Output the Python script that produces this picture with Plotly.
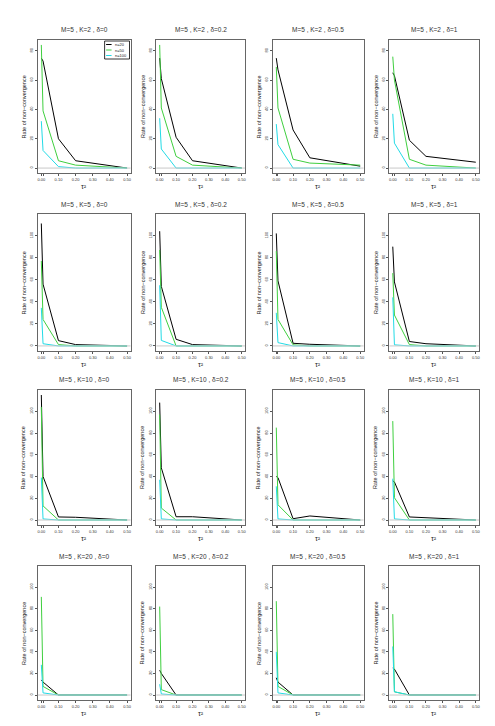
import plotly.graph_objects as go

W, H = 495, 726

# tau^2 grid used in the simulation
TAU2 = [0, 0.01, 0.1, 0.2, 0.5]
K_VALUES = [2, 5, 10, 20]
DELTA_VALUES = ["0", "0.2", "0.5", "1"]
X_TICKS = [0, 0.1, 0.2, 0.3, 0.4, 0.5]
X_TICK_TEXT = ["0.00", "0.10", "0.20", "0.30", "0.40", "0.50"]

# rate of non-convergence, one list per panel (row by row: K, then delta)
RATE_N20 = [
    [75, 73, 20, 5, 0], [75, 61, 21, 5, 0], [75, 67, 26, 7, 1.3], [65, 63, 19, 8, 4],
    [111, 56, 4.8, 1.2, 0], [104, 54, 6, 1.2, 0], [102, 59, 2.4, 1.5, 0], [90, 58, 4, 2, 0],
    [115, 40, 2.8, 2.5, 0], [108, 48, 3, 3, 0], [40, 39, 1.2, 3.7, 0], [36, 35, 2.8, 2, 0],
    [14, 12, 0, 0, 0], [23, 20, 0, 0, 0], [16, 12, 0, 0, 0], [25, 24, 0, 0, 0],
]
RATE_N50 = [
    [84, 39, 5, 2, 0], [84, 41, 8, 2, 0], [69, 41, 6, 3.4, 2], [76, 60, 6, 2, 0],
    [77, 24, 1.2, 0, 0], [87, 35, 0, 0, 0], [86, 24, 1, 0, 0], [66, 28, 1.2, 0, 0],
    [104, 13, 0, 0, 0], [97, 11, 0, 0, 0], [85, 14, 0, 0, 0], [91, 20.5, 0, 0, 0],
    [91, 8, 0, 0, 0], [82, 5, 0, 0, 0], [87, 8, 0, 0, 0], [75, 3, 0, 0, 0],
]
RATE_N100 = [
    [32, 12, 1, 0, 0], [34, 13, 0, 0, 0], [30, 16, 0, 0, 0], [37, 17, 0, 0, 0],
    [34.5, 2, 0, 0, 0], [55, 5, 0, 0, 0], [30, 3, 0, 0, 0], [44, 1, 0, 0, 0],
    [39, 1, 0, 0, 0], [37, 1, 0, 0, 0], [31, 1, 0, 0, 0], [38, 1, 0, 0, 0],
    [28, 2, 0, 0, 0], [10, 1, 0, 0, 0], [40, 2, 0, 0, 0], [45, 3, 0, 0, 0],
]
SERIES = [("n=20", RATE_N20, "black"), ("n=50", RATE_N50, "#3fcf3f"), ("n=100", RATE_N100, "#22dbe6")]
Y_MAX = [84, 115, 115, 115]
Y_TICKS = [[0, 20, 40, 60, 80], [0, 20, 40, 60, 80, 100], [0, 20, 40, 60, 80, 100], [0, 20, 40, 60, 80, 100]]

# panel plot-area positions in pixels
COL_L = [29, 148, 265, 382]
COL_R = [122, 237, 356, 472]
ROW_T = [32, 206, 382, 558]
ROW_B = [165, 343, 517, 692]

FONT = "Liberation Sans, Arial, sans-serif"

fig = go.Figure()
annotations = []
shapes = []

for r in range(4):
    for c in range(4):
        i = r * 4 + c
        n = i + 1
        xa = "x" if n == 1 else f"x{n}"
        ya = "y" if n == 1 else f"y{n}"
        for name, data, color in SERIES:
            fig.add_trace(go.Scatter(
                x=TAU2, y=data[i], mode="lines", name=name,
                line=dict(color=color, width=1), showlegend=False,
                xaxis=xa, yaxis=ya, hoverinfo="skip"))

        ymax = Y_MAX[r]
        pad = 0.04 * ymax
        ax_common = dict(showline=True, mirror=True, linecolor="#666", linewidth=1,
                         ticks="outside", ticklen=2, tickcolor="#555", tickwidth=0.6,
                         showgrid=False, zeroline=False,
                         tickfont=dict(size=4, family=FONT, color="#333"))
        fig.layout[f"xaxis{'' if n == 1 else n}"] = dict(
            domain=[COL_L[c] / W, COL_R[c] / W], anchor=ya,
            range=[-0.02, 0.52], tickvals=X_TICKS, ticktext=X_TICK_TEXT,
            minor=dict(tickmode="array", tickvals=[0.01], ticks="outside", ticklen=2,
                       tickcolor="#555", tickwidth=0.6),
            **ax_common)
        fig.layout[f"yaxis{'' if n == 1 else n}"] = dict(
            domain=[1 - ROW_B[r] / H, 1 - ROW_T[r] / H], anchor=xa,
            range=[-pad, ymax + pad], tickvals=Y_TICKS[r], tickangle=-90, **ax_common)

        # grey reference line at zero
        shapes.append(dict(type="line", xref=f"{xa} domain", yref=ya, x0=0, x1=1, y0=0, y1=0,
                           line=dict(color="#c8c8c8", width=1), layer="above"))

        cx = (COL_L[c] + COL_R[c]) / 2 / W
        annotations.append(dict(
            text=f"M=5 , K={K_VALUES[r]} , δ={DELTA_VALUES[c]}", xref="paper", yref="paper",
            x=cx, y=1 - (ROW_T[r] - 10) / H, xanchor="center", yanchor="middle",
            showarrow=False, font=dict(size=6.5, family=FONT, color="#333")))
        annotations.append(dict(
            text="τ²", xref="paper", yref="paper",
            x=cx, y=1 - (ROW_B[r] + 13) / H, xanchor="center", yanchor="middle",
            showarrow=False, font=dict(size=7, family=FONT, color="#222")))
        annotations.append(dict(
            text="Rate of non−convergence", xref="paper", yref="paper",
            x=(COL_L[c] - 14) / W, y=1 - (ROW_T[r] + ROW_B[r]) / 2 / H,
            xanchor="center", yanchor="middle", textangle=-90,
            showarrow=False, font=dict(size=5.5, family=FONT, color="#222")))

# legend in the first panel
lx0, lx1, ly0, ly1 = 96, 121, 33, 51
shapes.append(dict(type="rect", xref="paper", yref="paper",
                   x0=lx0 / W, x1=lx1 / W, y0=1 - ly1 / H, y1=1 - ly0 / H,
                   line=dict(color="black", width=0.8), fillcolor="white", layer="above"))
for k, (name, data, color) in enumerate(SERIES):
    yy = ly0 + 3.5 + k * 5.5
    shapes.append(dict(type="line", xref="paper", yref="paper",
                       x0=(lx0 + 1.5) / W, x1=(lx0 + 7) / W, y0=1 - yy / H, y1=1 - yy / H,
                       line=dict(color=color, width=1), layer="above"))
    annotations.append(dict(text=name, xref="paper", yref="paper",
                            x=(lx0 + 8) / W, y=1 - yy / H, xanchor="left", yanchor="middle",
                            showarrow=False, font=dict(size=4, family=FONT, color="#222")))

fig.update_layout(
    width=W, height=H, margin=dict(l=0, r=0, t=0, b=0),
    paper_bgcolor="white", plot_bgcolor="white",
    annotations=annotations, shapes=shapes, showlegend=False,
)

fig.write_html("out.html")
